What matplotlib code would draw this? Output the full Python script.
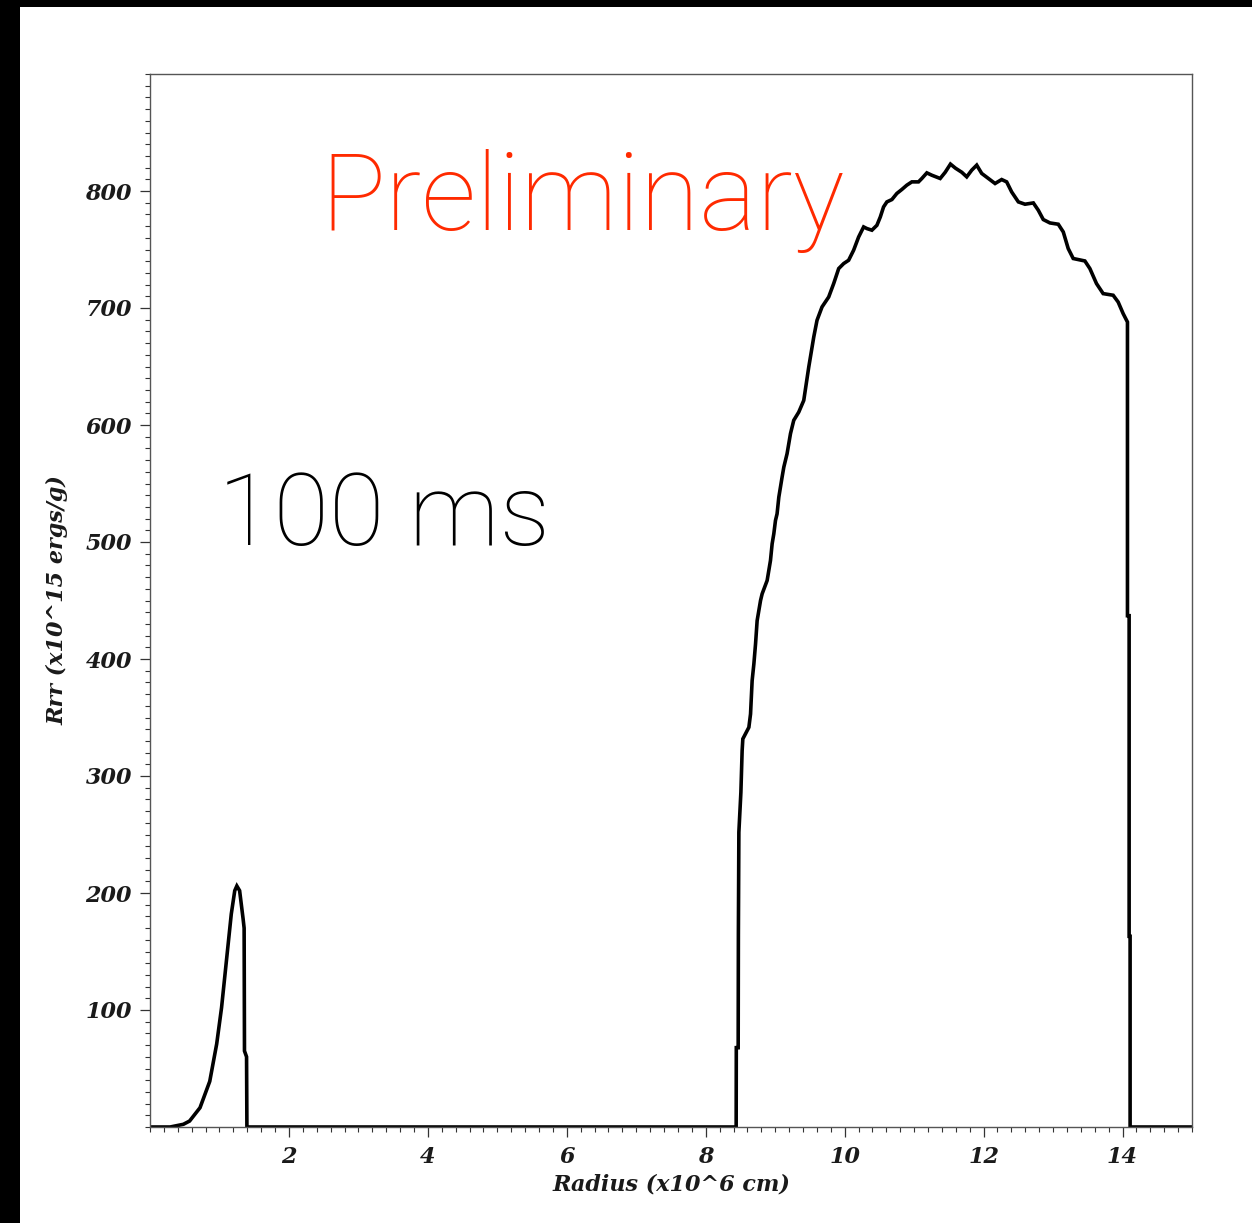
import matplotlib.pyplot as plt
from matplotlib.patches import Rectangle
from matplotlib.ticker import MultipleLocator

# radial profile of Rrr at 100 ms
radius = [0.0, 0.29, 0.48, 0.57, 0.72, 0.86, 0.96, 1.03, 1.10, 1.17, 1.22, 1.25,
          1.29, 1.34, 1.355, 1.36, 1.39, 1.395,
          8.438, 8.44, 8.467, 8.47, 8.477, 8.506, 8.524, 8.534, 8.621, 8.645,
          8.668, 8.693, 8.717, 8.740, 8.789, 8.812, 8.884, 8.932, 8.956, 8.980,
          9.004, 9.027, 9.052, 9.099, 9.124, 9.171, 9.220, 9.267, 9.339, 9.411,
          9.483, 9.555, 9.602, 9.674, 9.770, 9.842, 9.914, 9.986, 10.057, 10.129,
          10.201, 10.273, 10.320, 10.392, 10.464, 10.513, 10.560, 10.608, 10.680,
          10.751, 10.823, 10.895, 10.967, 11.063, 11.111, 11.183, 11.254, 11.375,
          11.447, 11.523, 11.595, 11.686, 11.757, 11.829, 11.901, 11.973, 12.069,
          12.165, 12.260, 12.332, 12.404, 12.500, 12.596, 12.716, 12.787, 12.859,
          12.955, 13.075, 13.147, 13.218, 13.290, 13.458, 13.530, 13.625, 13.721,
          13.865, 13.937, 14.009, 14.071, 14.071, 14.095, 14.095, 14.109, 14.109,
          15.0]
rrr = [0.0, 0.0, 2.3, 5.1, 16.5, 39.0, 71.0, 102.0, 142.0, 182.0, 202.0, 206.0,
       202.0, 178.0, 170.0, 65.0, 60.0, 0.0,
       0.0, 67.8, 67.8, 165.0, 252.0, 286.0, 321.6, 331.7, 341.6, 353.0,
       381.5, 395.8, 412.9, 432.8, 450.0, 455.7, 467.1, 484.2, 498.5, 507.0,
       518.4, 524.1, 538.3, 555.4, 564.0, 575.5, 592.6, 604.0, 611.0, 621.0,
       649.5, 675.2, 689.5, 700.9, 709.4, 720.9, 733.7, 738.0, 740.8, 749.4,
       760.7, 769.3, 767.9, 766.5, 770.7, 777.8, 786.4, 790.7, 792.7,
       797.9, 801.3, 805.0, 807.8, 807.8, 810.7, 815.5, 813.5, 810.7,
       816.0, 823.0, 819.5, 816.0, 812.1, 817.8, 822.1, 815.0, 810.7,
       806.4, 809.8, 807.8, 799.2, 790.7, 788.7, 789.8, 783.6, 775.6,
       772.7, 771.6, 765.0, 750.8, 742.3, 740.2, 733.7, 720.9, 712.3,
       710.9, 705.1, 695.2, 688.0, 437.0, 437.0, 163.0, 163.0, 0.0,
       0.0]

xticks = [2, 4, 6, 8, 10, 12, 14]
yticks = [100, 200, 300, 400, 500, 600, 700, 800]

fig = plt.figure(figsize=(12.52, 12.23), dpi=100, facecolor='black')
# white page with a dark frame at left and top
fig.patches.append(Rectangle((20 / 1252, 0), 1, 1 - 7 / 1223,
                             transform=fig.transFigure, facecolor='white',
                             edgecolor='none', zorder=-5))

ax = fig.add_axes([150 / 1252, 96 / 1223, 1042 / 1252, 1053 / 1223])
ax.plot(radius, rrr, color='black', lw=2.6, solid_joinstyle='miter')

ax.set_xlim(0, 15)
ax.set_ylim(0, 900)
ax.set_xticks(xticks)
ax.set_yticks(yticks)
ax.xaxis.set_minor_locator(MultipleLocator(0.2))
ax.yaxis.set_minor_locator(MultipleLocator(10))

lab = dict(family='DejaVu Serif', style='italic', weight='bold', size=16, color='#1a1a1a')
ax.set_xticklabels([str(t) for t in xticks], fontdict=lab)
ax.set_yticklabels([str(t) for t in yticks], fontdict=lab)
ax.tick_params(which='major', direction='out', length=7, width=0.9, color='#333333', pad=6)
ax.tick_params(which='minor', direction='out', length=3.5, width=0.8, color='#333333')
ax.tick_params(axis='x', which='major', pad=7)
for s in ax.spines.values():
    s.set_color('#555555')
    s.set_linewidth(1.0)

ax.set_xlabel('Radius (x10^6 cm)', fontdict=lab, labelpad=4)
ax.set_ylabel('Rrr (x10^15 ergs/g)', fontdict=lab, labelpad=12)

fig.text(320 / 1252, 1 - 230 / 1223, 'Preliminary', family='Roboto', weight='light',
         size=78, color='#ff2a00', va='baseline', ha='left')
fig.text(218 / 1252, 1 - 545 / 1223, '100 ms', family='Roboto', weight='light',
         size=73, color='black', va='baseline', ha='left')

fig.savefig('out.png', dpi=100, facecolor=fig.get_facecolor())
